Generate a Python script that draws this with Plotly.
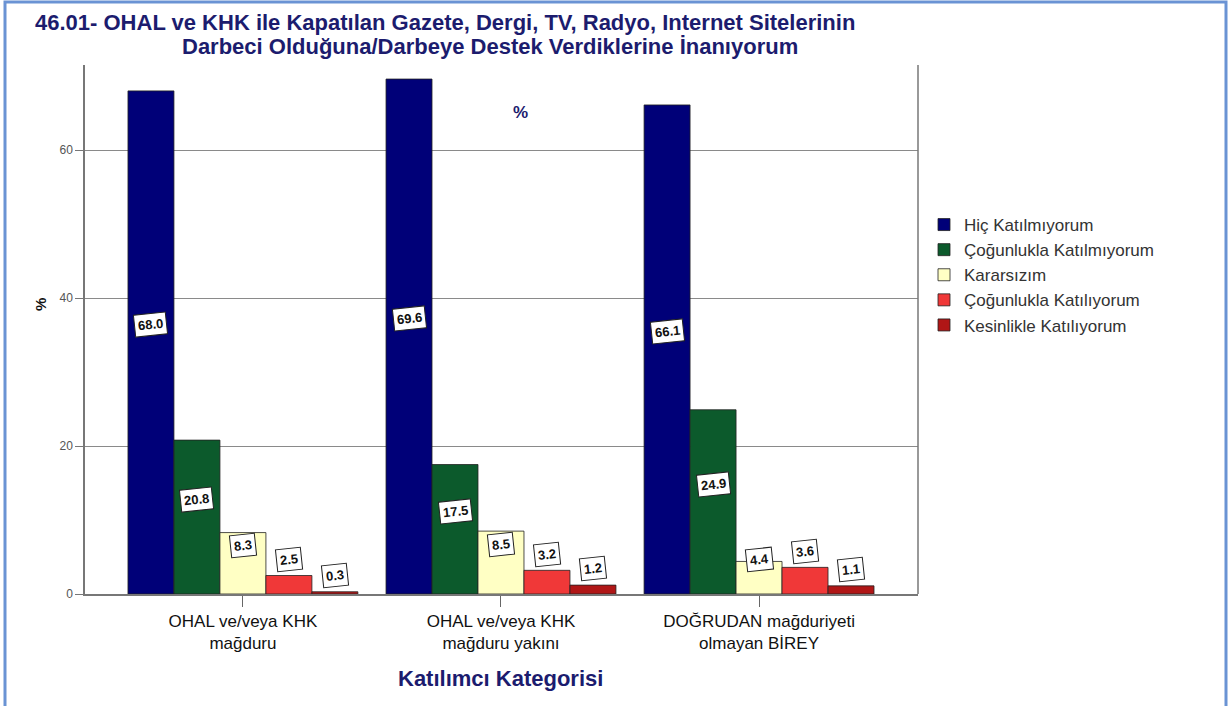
import plotly.graph_objects as go

categories = ["OHAL ve/veya KHK<br>mağduru", "OHAL ve/veya KHK<br>mağduru yakını", "DOĞRUDAN mağduriyeti<br>olmayan BİREY"]
series_names = ["Hiç Katılmıyorum", "Çoğunlukla Katılmıyorum", "Kararsızım", "Çoğunlukla Katılıyorum", "Kesinlikle Katılıyorum"]
hic = [68.0, 69.6, 66.1]
cogunlukla_katilmiyorum = [20.8, 17.5, 24.9]
kararsizim = [8.3, 8.5, 4.4]
cogunlukla_katiliyorum = [2.5, 3.2, 3.6]
kesinlikle = [0.3, 1.2, 1.1]
y_ticks = [0, 20, 40, 60]

series_values = [hic, cogunlukla_katilmiyorum, kararsizim, cogunlukla_katiliyorum, kesinlikle]
colors = ["#000078", "#0c5a2c", "#ffffc4", "#f03838", "#b01616"]

W, H = 1229, 706
L, R, T, B = 85, 918, 65, 594  # plot area in pixels
FONT = "Arial, Liberation Sans, sans-serif"

def px_x(x):
    return (x - L) / (R - L)

def px_y(y):
    return (B - y) / (B - T)

x_idx = list(range(len(categories)))
n = len(series_names)
group_w = 0.891
bar_w = group_w / n

fig = go.Figure()
for i, (name, vals, col) in enumerate(zip(series_names, series_values, colors)):
    fig.add_trace(go.Bar(
        x=x_idx, y=vals, name=name,
        marker=dict(color=col, line=dict(color="#222222", width=0.8)),
        hoverinfo="y+name",
    ))
    # data labels
    for j, v in enumerate(vals):
        xpos = j - group_w / 2 + bar_w * (i + 0.5)
        ly = 0.5 * v + 2.4 if i < 3 else v + 2.2
        fig.add_annotation(
            x=xpos, y=ly, xref="x", yref="y", text=f"{v:.1f}", showarrow=False,
            xanchor="center", yanchor="middle",
            font=dict(family=FONT, size=13, color="#111111", weight="bold"),
            bgcolor="white", bordercolor="#222222", borderwidth=1, borderpad=3,
            textangle=-6,
        )

fig.update_layout(
    width=W, height=H,
    margin=dict(l=L, r=W - R, t=T, b=H - B, pad=0),
    paper_bgcolor="white", plot_bgcolor="white",
    barmode="group", bargap=1 - group_w, bargroupgap=0,
    font=dict(family=FONT, color="#222222"),
    showlegend=True,
    legend=dict(
        x=px_x(924), y=px_y(207), xanchor="left", yanchor="top",
        font=dict(family=FONT, size=17, color="#333333"),
        bgcolor="rgba(0,0,0,0)", tracegroupgap=0, itemwidth=30,
    ),
    xaxis=dict(
        range=[-0.612, 2.616], tickmode="array", tickvals=x_idx, ticktext=categories,
        showgrid=False, zeroline=False, showline=True, linecolor="#777777", linewidth=1.5,
        ticks="outside", ticklen=11, tickcolor="#666666",
        tickfont=dict(family=FONT, size=17, color="#111111"),
    ),
    yaxis=dict(
        range=[0, 71.5], tickmode="array", tickvals=y_ticks,
        showgrid=True, gridcolor="#8a8a8a", gridwidth=1.2, zeroline=False,
        showline=True, linecolor="#777777", linewidth=1.5,
        ticks="outside", ticklen=8, tickcolor="#777777",
        tickfont=dict(family=FONT, size=12, color="#555555"),
    ),
)

# right frame line of plot area
fig.add_shape(type="line", xref="paper", yref="paper", x0=1, x1=1, y0=0, y1=1,
              line=dict(color="#777777", width=1.5))
# outer blue border
fig.add_shape(type="rect", xref="paper", yref="paper",
              x0=px_x(5), x1=px_x(1226), y0=px_y(710), y1=px_y(2),
              line=dict(color="#6a93d4", width=3), layer="above")

def text_at(x, y, text, size, color, angle=0):
    fig.add_annotation(x=px_x(x), y=px_y(y), xref="paper", yref="paper", showarrow=False,
                       xanchor="center", yanchor="middle", text=text, textangle=angle,
                       font=dict(family=FONT, size=size, color=color, weight="bold"))

text_at(445, 23, "46.01- OHAL ve KHK ile Kapatılan Gazete, Dergi, TV, Radyo, Internet Sitelerinin", 22, "#1c1c6e")
text_at(490, 47, "Darbeci Olduğuna/Darbeye Destek Verdiklerine İnanıyorum", 22, "#1c1c6e")
text_at(520, 113, "%", 17, "#1c1c6e")
text_at(40, 305, "%", 15, "#111111", angle=-90)
text_at(500, 678, "Katılımcı Kategorisi", 22, "#1c1c6e")

fig.write_html("out.html", config={"displayModeBar": False},
               post_script="document.body.style.margin='0';document.body.style.overflow='hidden';")
